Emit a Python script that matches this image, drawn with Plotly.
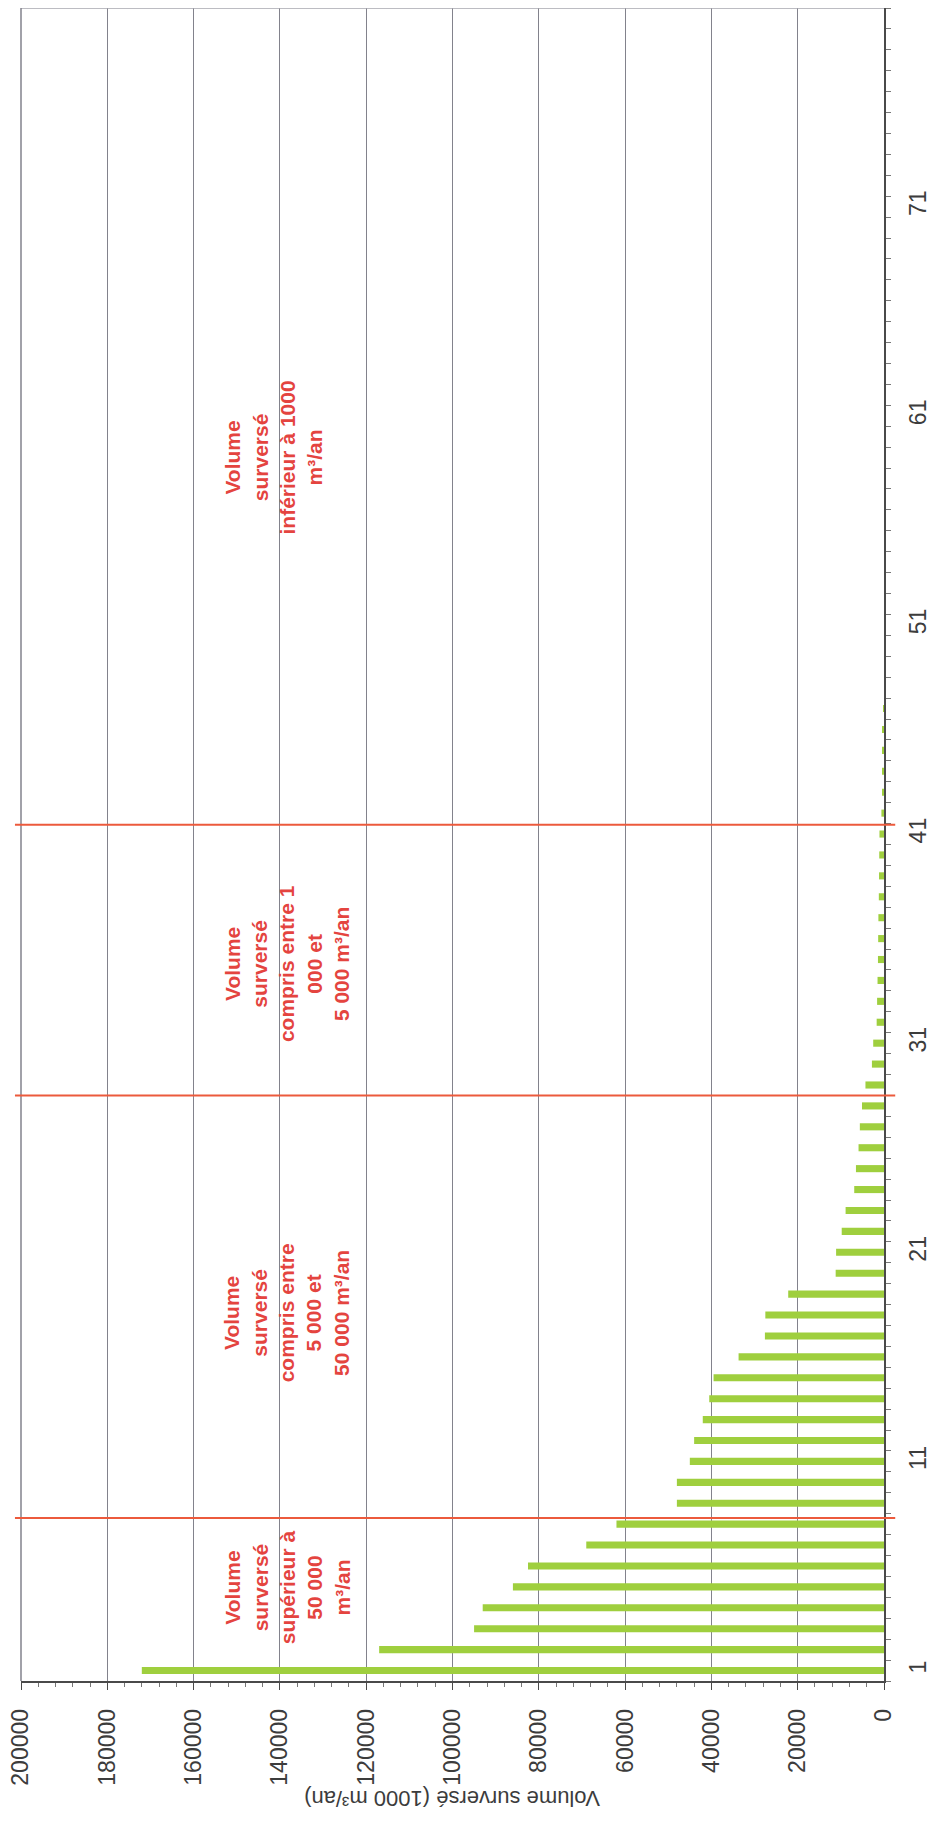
import plotly.graph_objects as go

# rank of each overflow point (category axis) and its yearly overflow volume (1000 m3/an)
site_rank = list(range(1, 48))
volume = [172000, 117000, 95000, 93000, 86000, 82500, 69000, 62000, 48000, 48000,
          45000, 44000, 42000, 40500, 39500, 33700, 27600, 27500, 22200, 11200,
          11100, 9800, 8900, 6900, 6500, 5900, 5600, 5100, 4300, 2800,
          2500, 1700, 1600, 1500, 1400, 1350, 1300, 1200, 1150, 1100,
          1050, 600, 450, 350, 300, 250, 200]

value_ticks = [0, 20000, 40000, 60000, 80000, 100000, 120000, 140000, 160000, 180000, 200000]
rank_ticks = [1, 11, 21, 31, 41, 51, 61, 71]

# class limits (between ranks) and their labels
limit_ranks = [8.3, 28.5, 41.45]
class_labels = [
    "Volume<br>surversé<br>supérieur à<br>50 000<br>m³/an",
    "Volume<br>surversé<br>compris entre<br>5 000 et<br>50 000 m³/an",
    "Volume<br>surversé<br>compris entre 1<br>000 et<br>5 000 m³/an",
    "Volume<br>surversé<br>inférieur à 1000<br>m³/an",
]
label_x = [138300, 138500, 138500, 141400]
label_y = [5.0, 18.1, 34.8, 59.0]

RED_TXT = "#e4443f"
RED_LINE = "#ec5a3c"
GREEN = "#9fcf3e"
AXIS = "#4a4a4a"
GRID = "#82828c"
FONT = "Liberation Sans, Arial, sans-serif"

fig = go.Figure(go.Bar(
    x=volume,
    y=site_rank,
    orientation="h",
    width=0.34,
    marker=dict(color=GREEN, line=dict(width=0)),
))

# top border and left border (200000) in grid colour
fig.add_shape(type="line", xref="paper", yref="paper", x0=0, x1=1, y0=1, y1=1,
              line=dict(color="#a6a6ae", width=1.5))
fig.add_shape(type="line", xref="paper", yref="paper", x0=0, x1=0, y0=0, y1=1,
              line=dict(color=GRID, width=1.5))

for r in limit_ranks:
    fig.add_shape(type="line", xref="paper", yref="y",
                  x0=-0.007, x1=1.013, y0=r, y1=r,
                  line=dict(color=RED_LINE, width=2))

for txt, lx, ly in zip(class_labels, label_x, label_y):
    fig.add_annotation(x=lx, y=ly, xref="x", yref="y", text="<b>" + txt + "</b>",
                       textangle=-90, showarrow=False, align="center",
                       font=dict(family=FONT, size=21, color=RED_TXT))

# axis title, drawn upside down as on the scan
fig.add_annotation(x=0.5, y=-0.079, xref="paper", yref="paper",
                   text="Volume surversé (1000 m³/an)", textangle=180,
                   showarrow=False, font=dict(family=FONT, size=22, color="#3c3c3c"))

# the page body adds an 8px margin, so the figure is 8px smaller than the window
fig.update_layout(
    width=927, height=1820,
    margin=dict(l=13, r=51, t=0, b=147),
    plot_bgcolor="white", paper_bgcolor="white",
    showlegend=False,
    font=dict(family=FONT),
    xaxis=dict(
        range=[200000, 0],
        automargin=False,
        tickmode="array", tickvals=value_ticks,
        ticktext=[str(v) for v in value_ticks],
        tickangle=-90,
        tickfont=dict(size=23, color="#3c3c3c"),
        ticklabeloverflow="allow",
        showgrid=True, gridcolor=GRID, gridwidth=1,
        showline=True, linecolor=AXIS, linewidth=1.5,
        ticks="outside", ticklen=7, tickcolor=AXIS,
        minor=dict(tickmode="linear", tick0=0, dtick=4000, ticks="outside",
                   ticklen=4, tickcolor="#777777", showgrid=False),
        zeroline=False,
        ticklabelstandoff=10,
    ),
    yaxis=dict(
        range=[0.5, 80.5],
        automargin=False,
        side="right",
        tickmode="array", tickvals=rank_ticks,
        ticktext=[str(v) for v in rank_ticks],
        tickangle=-90,
        tickfont=dict(size=23, color="#3c3c3c"),
        ticklabeloverflow="allow",
        showgrid=False,
        showline=True, linecolor=AXIS, linewidth=1.5,
        ticks="",
        minor=dict(tickmode="linear", tick0=0.5, dtick=1, ticks="outside",
                   ticklen=5, tickcolor="#777777", showgrid=False),
        zeroline=False,
        ticklabelstandoff=13,
    ),
)

fig.write_html("out.html")
